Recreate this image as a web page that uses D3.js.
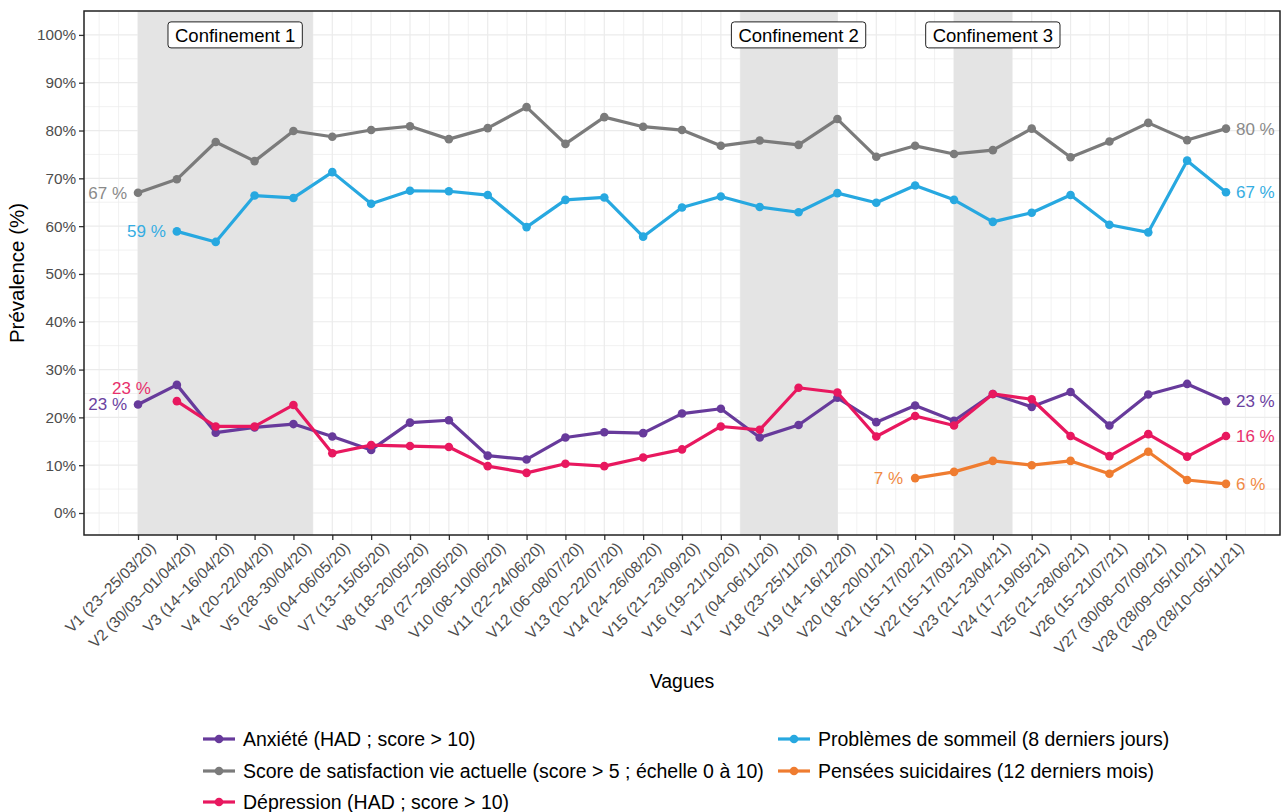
<!DOCTYPE html>
<html>
<head>
<meta charset="utf-8">
<script src="https://cdn.jsdelivr.net/npm/d3@7"></script>
<style>
  body { margin: 0; background: #fff; }
  text { font-family: "Liberation Sans", Arial, sans-serif; }
</style>
</head>
<body>
<div id="chart"></div>
<script>
var waves = ["V1 (23\u221225/03/20)", "V2 (30/03\u221201/04/20)", "V3 (14\u221216/04/20)", "V4 (20\u221222/04/20)",
  "V5 (28\u221230/04/20)", "V6 (04\u221206/05/20)", "V7 (13\u221215/05/20)", "V8 (18\u221220/05/20)",
  "V9 (27\u221229/05/20)", "V10 (08\u221210/06/20)", "V11 (22\u221224/06/20)", "V12 (06\u221208/07/20)",
  "V13 (20\u221222/07/20)", "V14 (24\u221226/08/20)", "V15 (21\u221223/09/20)", "V16 (19\u221221/10/20)",
  "V17 (04\u221206/11/20)", "V18 (23\u221225/11/20)", "V19 (14\u221216/12/20)", "V20 (18\u221220/01/21)",
  "V21 (15\u221217/02/21)", "V22 (15\u221217/03/21)", "V23 (21\u221223/04/21)", "V24 (17\u221219/05/21)",
  "V25 (21\u221228/06/21)", "V26 (15\u221221/07/21)", "V27 (30/08\u221207/09/21)", "V28 (28/09\u221205/10/21)",
  "V29 (28/10\u221205/11/21)"];

var anxiete = [22.7, 26.8, 16.8, 17.9, 18.6, 16.0, 13.2, 18.9, 19.4, 12.0, 11.2, 15.8, 16.9, 16.7, 20.8,
  21.8, 15.8, 18.4, 24.1, 19.0, 22.5, 19.3, 24.9, 22.2, 25.3, 18.3, 24.8, 27.0, 23.4];
var satisfaction = [67.0, 69.8, 77.6, 73.6, 79.9, 78.7, 80.1, 80.9, 78.2, 80.5, 84.9, 77.2, 82.8, 80.8, 80.1,
  76.8, 77.9, 77.0, 82.4, 74.5, 76.8, 75.1, 75.9, 80.4, 74.4, 77.7, 81.6, 78.0, 80.4];
var depression = [null, 23.4, 18.1, 18.1, 22.6, 12.5, 14.2, 14.0, 13.8, 9.8, 8.4, 10.3, 9.8, 11.6, 13.3,
  18.1, 17.4, 26.2, 25.2, 16.0, 20.3, 18.3, 24.9, 23.8, 16.1, 11.9, 16.5, 11.8, 16.1];
var sommeil = [null, 58.9, 56.7, 66.4, 65.9, 71.3, 64.7, 67.4, 67.3, 66.5, 59.8, 65.5, 66.0, 57.8, 63.9,
  66.2, 64.0, 62.9, 66.9, 64.9, 68.5, 65.5, 60.9, 62.8, 66.5, 60.3, 58.7, 73.7, 67.1];
var suicidaires = [null, null, null, null, null, null, null, null, null, null, null, null, null, null, null,
  null, null, null, null, null, 7.3, 8.6, 10.9, 10.0, 10.9, 8.2, 12.8, 6.9, 6.1];

var seriesNames = ["Anxiété (HAD ; score > 10)", "Score de satisfaction vie actuelle (score > 5 ; échelle 0 à 10)",
  "Dépression (HAD ; score > 10)", "Problèmes de sommeil (8 derniers jours)", "Pensées suicidaires (12 derniers mois)"];
var seriesValues = [anxiete, satisfaction, depression, sommeil, suicidaires];

var yTicks = [0, 10, 20, 30, 40, 50, 60, 70, 80, 90, 100];

// lockdown periods, in wave units
var confStart = [1, 16.5, 22];
var confEnd = [5.5, 19, 23.5];
var confLabelPos = [3.5, 18, 23];
var confLabels = ["Confinement 1", "Confinement 2", "Confinement 3"];

// styling
var colors = ["#673a9b", "#7b7b7b", "#e8185f", "#27a8e0", "#ef7c30"];
var labelColors = ["#6b429f", "#8a8a8a", "#e8306c", "#35ade2", "#f08a45"];
var startOffsets = [[-11, 0], [-11, 0], [-26, -13], [-11, 0], [-12, 0]];

var W = 1284, H = 812;
var margin = { top: 11, right: 4, bottom: 277, left: 84 };
var width = W - margin.left - margin.right,
    height = H - margin.top - margin.bottom;

var x = d3.scaleLinear().domain([-0.39, 30.39]).range([0, width]);
var y = d3.scaleLinear().domain([-4.6, 105]).range([height, 0]);

var svgRoot = d3.select("#chart").append("svg")
  .attr("width", W)
  .attr("height", H);

var svg = svgRoot.append("g")
  .attr("transform", "translate(" + margin.left + "," + margin.top + ")");

// grid
var gx = d3.range(0, 30.01, 0.5);
svg.selectAll(".vgrid").data(gx).enter().append("line")
  .attr("x1", d => x(d)).attr("x2", d => x(d))
  .attr("y1", 0).attr("y2", height)
  .attr("stroke", "#ebebeb")
  .attr("stroke-width", d => (d % 1 === 0 && d >= 1 && d <= 29) ? 1.2 : 0.7);

var gy = d3.range(-0, 105.01, 5);
svg.selectAll(".hgrid").data(gy).enter().append("line")
  .attr("x1", 0).attr("x2", width)
  .attr("y1", d => y(d)).attr("y2", d => y(d))
  .attr("stroke", "#ebebeb")
  .attr("stroke-width", d => d % 10 === 0 ? 1.2 : 0.7);

// shaded lockdowns
svg.selectAll(".conf").data(confStart).enter().append("rect")
  .attr("x", d => x(d))
  .attr("width", (d, i) => x(confEnd[i]) - x(d))
  .attr("y", 0)
  .attr("height", height)
  .attr("fill", "#e4e4e4");

// lines & points
var line = d3.line()
  .defined(d => d != null)
  .x((d, i) => x(i + 1))
  .y(d => y(d));

seriesValues.forEach(function (vals, s) {
  svg.append("path")
    .datum(vals)
    .attr("fill", "none")
    .attr("stroke", colors[s])
    .attr("stroke-width", 3.2)
    .attr("stroke-linejoin", "round")
    .attr("d", line);

  svg.selectAll(".pt" + s)
    .data(vals.map((v, i) => ({ v: v, i: i })).filter(d => d.v != null))
    .enter().append("circle")
    .attr("cx", d => x(d.i + 1))
    .attr("cy", d => y(d.v))
    .attr("r", 4.3)
    .attr("fill", colors[s]);

  var firstI = vals.findIndex(v => v != null);
  var lastI = vals.length - 1;
  svg.append("text")
    .attr("x", x(firstI + 1) + startOffsets[s][0])
    .attr("y", y(vals[firstI]) + startOffsets[s][1])
    .attr("dy", "0.35em")
    .attr("text-anchor", "end")
    .style("font-size", "17px")
    .attr("fill", labelColors[s])
    .text(Math.round(vals[firstI]) + " %");
  svg.append("text")
    .attr("x", x(lastI + 1) + 10)
    .attr("y", y(vals[lastI]))
    .attr("dy", "0.35em")
    .style("font-size", "17px")
    .attr("fill", labelColors[s])
    .text(Math.round(vals[lastI]) + " %");
});

// lockdown labels
confLabels.forEach(function (lab, i) {
  var g = svg.append("g");
  var t = g.append("text")
    .attr("x", x(confLabelPos[i]))
    .attr("y", y(100))
    .attr("dy", "0.36em")
    .attr("text-anchor", "middle")
    .style("font-size", "18.5px")
    .attr("fill", "#000")
    .text(lab);
  var bb = t.node().getBBox();
  g.insert("rect", "text")
    .attr("x", bb.x - 7)
    .attr("y", y(100) - 13)
    .attr("width", bb.width + 14)
    .attr("height", 26)
    .attr("rx", 3)
    .attr("fill", "#fff")
    .attr("stroke", "#222")
    .attr("stroke-width", 1);
});

// axes
var xAxis = d3.axisBottom(x)
  .tickValues(d3.range(1, 30))
  .tickFormat(d => waves[d - 1])
  .tickSize(5)
  .tickPadding(6);
var yAxis = d3.axisLeft(y)
  .tickValues(yTicks)
  .tickFormat(d => d + "%")
  .tickSize(5)
  .tickPadding(3);

var gxa = svg.append("g")
  .attr("transform", "translate(0," + height + ")")
  .call(xAxis);
gxa.select(".domain").remove();
gxa.selectAll("line").attr("stroke", "#333").attr("stroke-width", 1.3);
gxa.selectAll("text")
  .style("font-size", "15.5px")
  .attr("fill", "#4d4d4d")
  .style("text-anchor", "end")
  .attr("dx", "0.2em")
  .attr("dy", "0.75em")
  .attr("transform", "rotate(-45)");

var gya = svg.append("g").call(yAxis);
gya.select(".domain").remove();
gya.selectAll("line").attr("stroke", "#333").attr("stroke-width", 1.3);
gya.selectAll("text").style("font-size", "15.3px").attr("fill", "#4d4d4d");

// panel border
svg.append("rect")
  .attr("width", width).attr("height", height)
  .attr("fill", "none")
  .attr("stroke", "#222")
  .attr("stroke-width", 1.5);

// axis titles
svgRoot.append("text")
  .attr("transform", "translate(17," + (margin.top + height / 2) + ") rotate(-90)")
  .attr("text-anchor", "middle")
  .attr("dy", "0.35em")
  .style("font-size", "20.5px")
  .attr("fill", "#000")
  .text("Prévalence (%)");

svgRoot.append("text")
  .attr("x", margin.left + width / 2)
  .attr("y", 681)
  .attr("dy", "0.35em")
  .attr("text-anchor", "middle")
  .style("font-size", "19.5px")
  .attr("fill", "#000")
  .text("Vagues");

// legend (3 rows, filled by column)
var legX = [203, 778], legY = [739, 771, 802];
seriesNames.forEach(function (name, i) {
  var col = Math.floor(i / 3), row = i % 3;
  var g = svgRoot.append("g")
    .attr("transform", "translate(" + legX[col] + "," + legY[row] + ")");
  g.append("line").attr("x1", 0).attr("x2", 32)
    .attr("stroke", colors[i]).attr("stroke-width", 3.2);
  g.append("circle").attr("cx", 16).attr("r", 4.3).attr("fill", colors[i]);
  g.append("text")
    .attr("x", 40)
    .attr("dy", "0.35em")
    .style("font-size", "19.5px")
    .attr("fill", "#000")
    .text(name);
});
</script>
</body>
</html>
